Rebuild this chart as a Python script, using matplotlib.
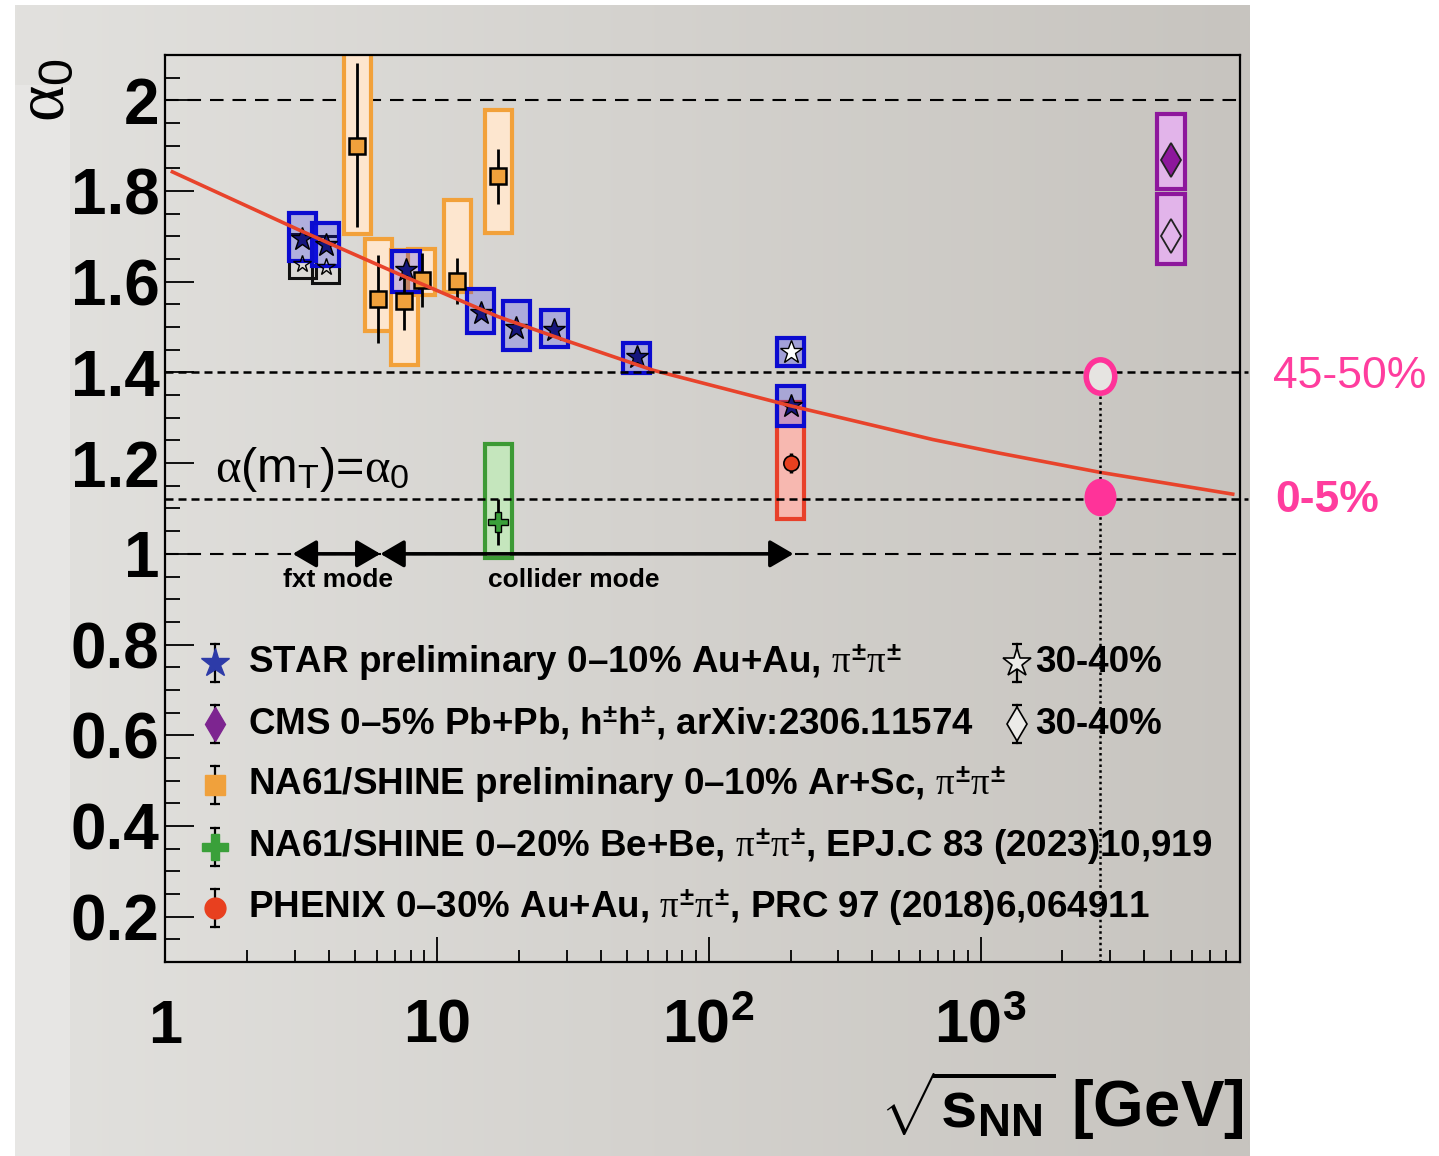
import numpy as np
import matplotlib
matplotlib.use("Agg")
import matplotlib.pyplot as plt
from matplotlib.patches import Rectangle
from matplotlib.path import Path
from matplotlib.transforms import Affine2D

plt.rcParams['font.family'] = ['Liberation Sans', 'DejaVu Sans']
plt.rcParams['mathtext.fontset'] = 'custom'
plt.rcParams['mathtext.rm'] = 'Liberation Sans:bold'
plt.rcParams['mathtext.bf'] = 'Liberation Sans:bold'
plt.rcParams['mathtext.sf'] = 'Liberation Sans'
plt.rcParams['mathtext.it'] = 'Liberation Serif'

# ---------------- data ----------------
# STAR 0-10% Au+Au (filled stars)
star_e = [3.2, 3.9, 7.7, 14.5, 19.6, 27.0, 54.4, 200.0]
star_a = [1.695, 1.680, 1.625, 1.530, 1.497, 1.493, 1.434, 1.325]
star_sys_lo = [1.645, 1.635, 1.578, 1.487, 1.449, 1.456, 1.399, 1.283]
star_sys_hi = [1.752, 1.730, 1.667, 1.583, 1.558, 1.538, 1.464, 1.370]
# STAR 30-40% (open stars)
star_p_e = [3.2, 3.9, 200.0]
star_p_a = [1.640, 1.632, 1.444]
star_p_sys_lo = [1.608, 1.598, 1.414]
star_p_sys_hi = [1.705, 1.700, 1.475]
# NA61/SHINE Ar+Sc 0-10%
arsc_e = [5.1, 6.1, 7.6, 8.8, 11.9, 16.8]
arsc_a = [1.900, 1.561, 1.558, 1.604, 1.602, 1.833]
arsc_stat_lo = [1.721, 1.464, 1.493, 1.545, 1.552, 1.772]
arsc_stat_hi = [2.082, 1.658, 1.625, 1.663, 1.652, 1.892]
arsc_sys_lo = [1.705, 1.491, 1.416, 1.571, 1.578, 1.707]
arsc_sys_hi = [2.130, 1.695, 1.670, 1.672, 1.781, 1.978]
# NA61/SHINE Be+Be 0-20%
bebe_e = [16.8]
bebe_a = [1.070]
bebe_stat_lo = [1.020]
bebe_stat_hi = [1.120]
bebe_sys_lo = [0.991]
bebe_sys_hi = [1.243]
# PHENIX 0-30% Au+Au
phenix_e = [200.0]
phenix_a = [1.200]
phenix_stat_lo = [1.178]
phenix_stat_hi = [1.222]
phenix_sys_lo = [1.077]
phenix_sys_hi = [1.335]
# CMS Pb+Pb 0-5% and 30-40%
cms_e = [5020.0]
cms_a = [1.869]
cms_sys_lo = [1.805]
cms_sys_hi = [1.969]
cms_p_e = [5020.0]
cms_p_a = [1.700]
cms_p_sys_lo = [1.639]
cms_p_sys_hi = [1.794]
# highlighted points (2.76 TeV)
pink_e = [2760.0]
pink_periph = [1.392]
pink_central = [1.125]
# fit curve
curve_x = [1.05, 3.09, 7.63, 16.8, 29.6, 45.0, 62.4, 198.5, 668.0, 1175.0, 2738.0, 8590.0]
curve_y = [1.844, 1.715, 1.611, 1.523, 1.471, 1.434, 1.405, 1.327, 1.252, 1.222, 1.180, 1.131]
# reference lines
root_lines = [1.0, 2.0]
added_lines = [1.4, 1.12]
fxt_range = [2.95, 6.2]
collider_range = [6.2, 205.0]

y_ticks = [0.2, 0.4, 0.6, 0.8, 1.0, 1.2, 1.4, 1.6, 1.8, 2.0]
y_ticklabels = ['0.2', '0.4', '0.6', '0.8', '1', '1.2', '1.4', '1.6', '1.8', '2']
x_ticks = [1, 10, 100, 1000]
x_ticklabels = ['1', '10', r'$\mathbf{10^{2}}$', r'$\mathbf{10^{3}}$']

legend_labels = [
    r"STAR preliminary 0–10% Au+Au, $\pi^{\pm}\pi^{\pm}$",
    r"CMS 0–5% Pb+Pb, h$^{\pm}$h$^{\pm}$, arXiv:2306.11574",
    r"NA61/SHINE preliminary 0–10% Ar+Sc, $\pi^{\pm}\pi^{\pm}$",
    r"NA61/SHINE 0–20% Be+Be, $\pi^{\pm}\pi^{\pm}$, EPJ.C 83 (2023)10,919",
    r"PHENIX 0–30% Au+Au, $\pi^{\pm}\pi^{\pm}$, PRC 97 (2018)6,064911",
]

# ---------------- figure ----------------
W, H = 1439, 1156
fig = plt.figure(figsize=(W / 100, H / 100), dpi=100)
fig.patch.set_facecolor('white')

bg = fig.add_axes([0, 0, 1, 1], zorder=-10)
bg.set_xlim(0, W)
bg.set_ylim(H, 0)
bg.axis('off')
g = np.linspace(0, 1, 256)[None, :, None]
c0 = np.array([0xe2, 0xe1, 0xde]) / 255
c1 = np.array([0xc7, 0xc4, 0xbf]) / 255
img = c0[None, None, :] * (1 - g) + c1[None, None, :] * g
bg.imshow(img, extent=[15, 1250, 1156, 5], aspect='auto', interpolation='bilinear')
bg.add_patch(Rectangle((15, 85), 55, H - 85, color='#e7e6e4', lw=0))

ax = fig.add_axes([165 / W, 1 - 962 / H, 1075 / W, 907 / H])
ax.set_facecolor('none')
ax.set_xscale('log')
ax.set_xlim(1, 9000)
ax.set_ylim(0.1, 2.1)
for s in ax.spines.values():
    s.set_linewidth(1.6)
    s.set_color('black')

BF = 10 ** 0.05


def boxes(e, lo, hi, ec, fc, lw=3.0, z=2.0):
    for x, l, h, c in zip(e, lo, hi, ec if isinstance(ec, list) else [ec] * len(e)):
        ax.add_patch(Rectangle((x / BF, l), x * BF - x / BF, h - l,
                               facecolor=fc, edgecolor=c, lw=lw, zorder=z))


def errs(e, a, lo, hi, z=3.5, lw=2.0):
    ax.errorbar(e, a, yerr=[np.array(a) - np.array(lo), np.array(hi) - np.array(a)],
                fmt='none', ecolor='black', elinewidth=lw, capsize=0, zorder=z)


# reference ROOT dashed lines
for yv in root_lines:
    ax.axhline(yv, color='black', lw=1.5, ls=(0, (6.5, 4.3)), zorder=1)

# systematic boxes
boxes(arsc_e, arsc_sys_lo, arsc_sys_hi, '#f2a13a', '#fde6cf', z=2.0)
boxes(bebe_e, bebe_sys_lo, bebe_sys_hi, '#3d9a35', '#c5e6bd', z=2.0)
boxes(phenix_e, phenix_sys_lo, phenix_sys_hi, '#e8402a', '#f7b8b0', z=2.0)
boxes(star_p_e, star_p_sys_lo, star_p_sys_hi, ['#111111', '#111111', '#0b0bd0'],
      (0.0, 0.0, 1.0, 0.0), lw=2.2, z=2.1)
boxes(star_p_e[2:], star_p_sys_lo[2:], star_p_sys_hi[2:], '#0b0bd0',
      (0.1, 0.1, 1.0, 0.25), lw=3.0, z=2.2)
boxes(star_e, star_sys_lo, star_sys_hi, '#0b0bd0', (0.1, 0.1, 1.0, 0.22), lw=3.0, z=2.3)
boxes(cms_e, cms_sys_lo, cms_sys_hi, '#8d179c', '#e2b4ea', z=2.0)
boxes(cms_p_e, cms_p_sys_lo, cms_p_sys_hi, '#8d179c', '#e2b4ea', z=2.0)

# statistical errors + markers
errs(arsc_e, arsc_a, arsc_stat_lo, arsc_stat_hi)
errs(bebe_e, bebe_a, bebe_stat_lo, bebe_stat_hi)
errs(phenix_e, phenix_a, phenix_stat_lo, phenix_stat_hi, lw=2.5)
ax.plot(arsc_e, arsc_a, ls='none', marker='s', ms=12, mfc='#f0a13c', mec='black', mew=1.8, zorder=4)
ax.plot(bebe_e, bebe_a, ls='none', marker='P', ms=15, mfc='#3aa03a', mec='black', mew=1.0, zorder=4)
ax.plot(phenix_e, phenix_a, ls='none', marker='o', ms=11, mfc='#e8401f', mec='black', mew=1.2, zorder=4)
ax.plot(star_p_e[:2], star_p_a[:2], ls='none', marker='*', ms=13, mfc='none', mec='black', mew=1.0, zorder=4)
ax.plot(star_p_e[2:], star_p_a[2:], ls='none', marker='*', ms=17, mfc='white', mec='black', mew=1.0, zorder=4)
ax.plot(star_e, star_a, ls='none', marker='*', ms=17, mfc='#16167e', mec='black', mew=1.0, zorder=4)
ax.plot(cms_e, cms_a, ls='none', marker='d', ms=17, mfc='#8d179c', mec='#222222', mew=1.3, zorder=4)
ax.plot(cms_p_e, cms_p_a, ls='none', marker='d', ms=17, mfc='none', mec='#222222', mew=1.3, zorder=4)

# fit curve
ax.plot(curve_x, curve_y, color='#e8432b', lw=2.6, zorder=5, solid_capstyle='butt')

# arrows
arrow_kw = dict(arrowstyle='<|-|>,head_length=0.6,head_width=0.35', lw=2.6, color='black',
                mutation_scale=24, shrinkA=0, shrinkB=0)
ax.annotate('', xy=(fxt_range[0], root_lines[0]), xytext=(fxt_range[1], root_lines[0]),
            arrowprops=arrow_kw, zorder=6)
ax.annotate('', xy=(collider_range[1], root_lines[0]), xytext=(collider_range[0], root_lines[0]),
            arrowprops=arrow_kw, zorder=6)
ax.text(0.1606, 0.421, 'fxt mode', transform=ax.transAxes, ha='center', va='center',
        fontsize=19, fontweight='bold')
ax.text(0.3805, 0.421, 'collider mode', transform=ax.transAxes, ha='center', va='center',
        fontsize=19, fontweight='bold')

# alpha(mT) text
ax.text(0.0465, 0.529, r'$\alpha$(m$_{\mathsf{T}}$)=$\alpha_{\mathsf{0}}$', transform=ax.transAxes,
        ha='left', va='baseline', fontsize=35)

# added lines (on top)
ytr = ax.get_yaxis_transform()
for yv in added_lines:
    ax.plot([0, 1.0075], [yv, yv], transform=ytr, color='black', lw=1.8,
            ls=(0, (3.2, 2.0)), zorder=7, clip_on=False)
ax.plot([pink_e[0], pink_e[0]], [0.1, pink_periph[0]], color='black', lw=1.8,
        ls=(0, (1.0, 1.3)), zorder=7)

ell = Path.unit_circle().transformed(Affine2D().scale(1.0, 1.17))
ax.plot(pink_e, pink_periph, ls='none', marker=ell, ms=24, mfc='#e6e4e1', mec='#ff3399',
        mew=4.0, zorder=8)
ax.plot(pink_e, pink_central, ls='none', marker=ell, ms=27, mfc='#ff3399', mec='#ff3399',
        mew=0, zorder=8)

# ticks
ax.set_xticks(x_ticks)
ax.set_xticklabels(x_ticklabels)
ax.set_xticks([k * 10 ** d for d in range(4) for k in range(2, 10) if k * 10 ** d < 9000], minor=True)
ax.xaxis.set_minor_formatter(matplotlib.ticker.NullFormatter())
ax.set_yticks(y_ticks)
ax.set_yticklabels(y_ticklabels)
ax.set_yticks([v for v in np.arange(0.1, 2.1001, 0.05)], minor=True)
ax.tick_params(axis='both', which='both', direction='in', top=False, right=False, colors='black')
ax.tick_params(axis='y', which='major', length=21, width=1.3, pad=4, labelsize=46)
ax.tick_params(axis='y', which='minor', length=11, width=1.3)
ax.tick_params(axis='x', which='major', length=18, width=1.3, pad=58, labelsize=44)
ax.tick_params(axis='x', which='minor', length=9, width=1.3)
for lab in ax.get_yticklabels():
    lab.set_weight('bold')
for lab in ax.get_xticklabels():
    lab.set_weight('bold')
    lab.set_va('baseline')

# axis titles
fig.text(1244 / W, 1 - 1127 / H, r'$\sqrt{\mathrm{s}_{\mathrm{NN}}}$ [GeV]', ha='right', va='baseline',
         fontsize=47, fontweight='bold')
fig.text(45 / W, 1 - 90 / H, r'$\alpha_{\mathsf{0}}$', rotation=90, ha='center', va='center',
         fontsize=50)

# legend (drawn manually)
rows_y = [0.3297, 0.2624, 0.1951, 0.1268, 0.0595]
mx, tx = 0.0465, 0.0772
leg_styles = [
    dict(marker='*', ms=21, mfc='#2d3ba8', mec='#2d3ba8'),
    dict(marker='d', ms=17, mfc='#7d2590', mec='#7d2590'),
    dict(marker='s', ms=15, mfc='#f0a13c', mec='#f0a13c'),
    dict(marker='P', ms=19, mfc='#3aa03a', mec='#3aa03a'),
    dict(marker='o', ms=15, mfc='#e8401f', mec='#e8401f'),
]
dy = 0.021
for yy, st, lab in zip(rows_y, leg_styles, legend_labels):
    ax.plot([mx, mx], [yy - dy, yy + dy], transform=ax.transAxes, color='black', lw=1.6, zorder=8)
    ax.plot([mx, mx], [yy - dy, yy + dy], transform=ax.transAxes, ls='none', marker='_', ms=7,
            mew=1.6, color='black', zorder=8)
    ax.plot([mx], [yy], transform=ax.transAxes, ls='none', zorder=9, **st)
    ax.text(tx, yy, lab, transform=ax.transAxes, ha='left', va='center', fontsize=26.5,
            fontweight='bold', zorder=9)

mx2, tx2 = 0.7926, 0.8093
for yy, mk, ms in [(rows_y[0], '*', 21), (rows_y[1], 'd', 17)]:
    ax.plot([mx2, mx2], [yy - dy, yy + dy], transform=ax.transAxes, color='black', lw=1.6, zorder=8)
    ax.plot([mx2, mx2], [yy - dy, yy + dy], transform=ax.transAxes, ls='none', marker='_', ms=7,
            mew=1.6, color='black', zorder=8)
    ax.plot([mx2], [yy], transform=ax.transAxes, ls='none', marker=mk, ms=ms, mfc='#ecebe8',
            mec='black', mew=1.2, zorder=9)
    ax.text(tx2, yy, '30-40%', transform=ax.transAxes, ha='left', va='center', fontsize=26.5,
            fontweight='bold', zorder=9)

# annotations outside
fig.text(1273 / W, 1 - 376 / H, '45-50%', ha='left', va='center', fontsize=32,
         color='#ff3d9e', family='Liberation Sans')
fig.text(1275 / W, 1 - 501 / H, '0-5%', ha='left', va='center', fontsize=32,
         color='#ff3d9e', family='Liberation Sans', fontweight='bold')

fig.savefig('out.png', dpi=100)
